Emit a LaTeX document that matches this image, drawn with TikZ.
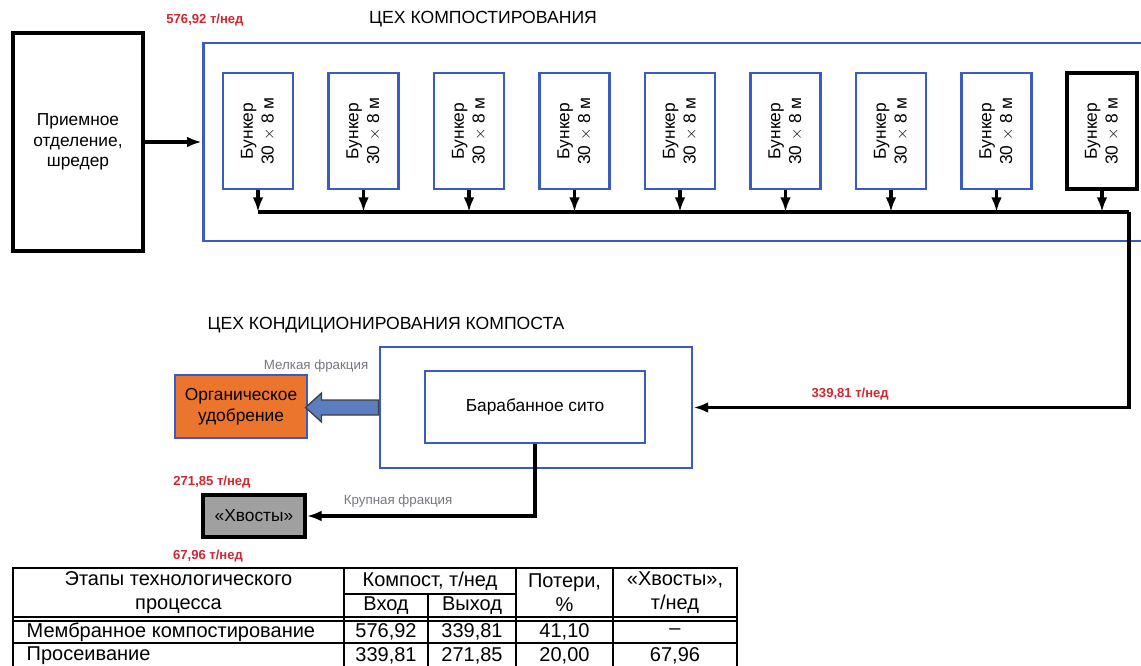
\documentclass[tikz,border=0pt]{standalone}
\usepackage{fontspec}
\setmainfont{Liberation Sans}
\usetikzlibrary{positioning,arrows.meta}
\definecolor{shopblue}{RGB}{58,92,192}
\definecolor{flowred}{RGB}{204,40,50}
\definecolor{fracgray}{RGB}{118,118,128}
\definecolor{fertorange}{RGB}{236,117,45}
\definecolor{tailgray}{RGB}{160,160,160}
\definecolor{arrowblue}{RGB}{92,126,192}

\begin{document}
\begin{tikzpicture}[x=0.75pt,y=-0.75pt,
  unit/.style={draw=shopblue,line width=2.2pt,fill=white},
  hardbox/.style={draw=black,line width=2.8pt,fill=white},
  bunker/.style={unit,minimum width=52.5pt,minimum height=87pt},
  flow/.style={text=flowred,font=\fontsize{9.8}{11}\selectfont\bfseries},
  fraction/.style={text=fracgray,font=\fontsize{10}{12}\selectfont},
  caption/.style={font=\fontsize{13.2}{15}\selectfont},
  boxtext/.style={font=\fontsize{13}{15.5}\selectfont,align=center},
  arr/.style={line width=2.4pt,-{Latex[length=11pt,width=8pt]}},
  tabline/.style={line width=0.9pt},
  cell/.style={font=\fontsize{15}{18}\selectfont,align=center}]
  \useasboundingbox (0,0) rectangle (1141,666);
  \node[hardbox,boxtext,minimum width=97.5pt,minimum height=163.5pt] (priem) at (78,142)
    {Приемное\\отделение,\\шредер};
  \node[unit,minimum width=710pt,minimum height=148.5pt] (compost) at (676.5,142) {};
  \node[caption] (compostname) at (483,19) {ЦЕХ КОМПОСТИРОВАНИЯ};
  \node[flow] (inflow) at (205,20) {576,92 т/нед};
  \draw[arr] (priem) -- (compost);
  % bunkers and collecting line
  \coordinate (busend) at (1129,212);
  \foreach \i in {1,...,9} {
    \node[bunker] (b\i) at ({258+(\i-1)*105.5},131) {};
    \node[boxtext,rotate=90] (bt\i) at (b\i) {Бункер\\30 $\times$ 8 м};
    \draw[arr] (b\i.south) -- (b\i.south |- busend);
  }
  \node[bunker,hardbox,minimum width=52.5pt,minimum height=87pt] (b9) at (1102,131) {};
  \node[boxtext,rotate=90] (bt9) at (b9) {Бункер\\30 $\times$ 8 м};
  \draw[line width=2.4pt] (b1.south |- busend) -- (busend);

  \node[caption] (condname) at (386,325) {ЦЕХ КОНДИЦИОНИРОВАНИЯ КОМПОСТА};
  \node[unit,minimum width=234pt,minimum height=90.75pt] (cond) at (536,407.5) {};
  \node[unit,boxtext,minimum width=165pt,minimum height=54pt] (sieve) at (535,407) {Барабанное сито};
  \node[unit,boxtext,fill=fertorange,minimum width=99pt,minimum height=47.25pt] (fert) at (241,406.5)
    {Органическое\\удобрение};
  \node[hardbox,boxtext,fill=tailgray,minimum width=76.5pt,minimum height=31.5pt] (tails) at (254,516)
    {«Хвосты»};
  \draw[arr] (busend) |- (cond.east) node[flow,pos=0.82,above=1pt] (sieveflow) {339,81 т/нед};
  \draw[draw=black!75,fill=arrowblue,line width=1pt] (cond.west) ++(0,-7.5) -- ++(-57,0) -- ++(0,-7)
    -- ++(-16,14.5) -- ++(16,14.5) -- ++(0,-7) -- ++(57,0) -- cycle;
  \node[fraction,anchor=east] (finefrac) at (373,366) {Мелкая фракция};
  \draw[arr] (sieve.south) |- (tails.east) node[fraction,pos=0.8,above=2pt] (coarsefrac) {Крупная фракция};
  \node[flow] (tailsout) at (212,482) {271,85 т/нед};
  \node[flow] (tailsin) at (208,556) {67,96 т/нед};

  % table
  \draw[tabline,line width=1.4pt] (13,670) -- (13,568) -- (737,568) -- (737,670);
  \foreach \x in {344,516,613} \draw[tabline] (\x,568) -- (\x,670);
  \draw[tabline] (428,594) -- (428,670);
  \draw[tabline] (344,594) -- (516,594);
  \draw[tabline] (13,617) -- (737,617) (13,621) -- (737,621);
  \draw[tabline] (13,643) -- (737,643);
  \node[cell] (hstage) at (178.5,593) {Этапы технологического\\процесса};
  \node[cell] (hcompost) at (430,581) {Компост, т/нед};
  \node[cell] (hin) at (386,606) {Вход};
  \node[cell] (hout) at (472,606) {Выход};
  \node[cell] (hloss) at (564.5,593) {Потери,\\\%};
  \node[cell] (htails) at (675,593) {«Хвосты»,\\т/нед};
  \node[cell,anchor=west] (r1) at (22,632) {Мембранное компостирование};
  \node[cell] (r1in) at (386,632) {576,92};
  \node[cell] (r1out) at (472,632) {339,81};
  \node[cell] (r1loss) at (564.5,632) {41,10};
  \node[cell] (r1tails) at (675,632) {–};
  \node[cell,anchor=west] (r2) at (22,656) {Просеивание};
  \node[cell] (r2in) at (386,656) {339,81};
  \node[cell] (r2out) at (472,656) {271,85};
  \node[cell] (r2loss) at (564.5,656) {20,00};
  \node[cell] (r2tails) at (675,656) {67,96};
\end{tikzpicture}
\end{document}
